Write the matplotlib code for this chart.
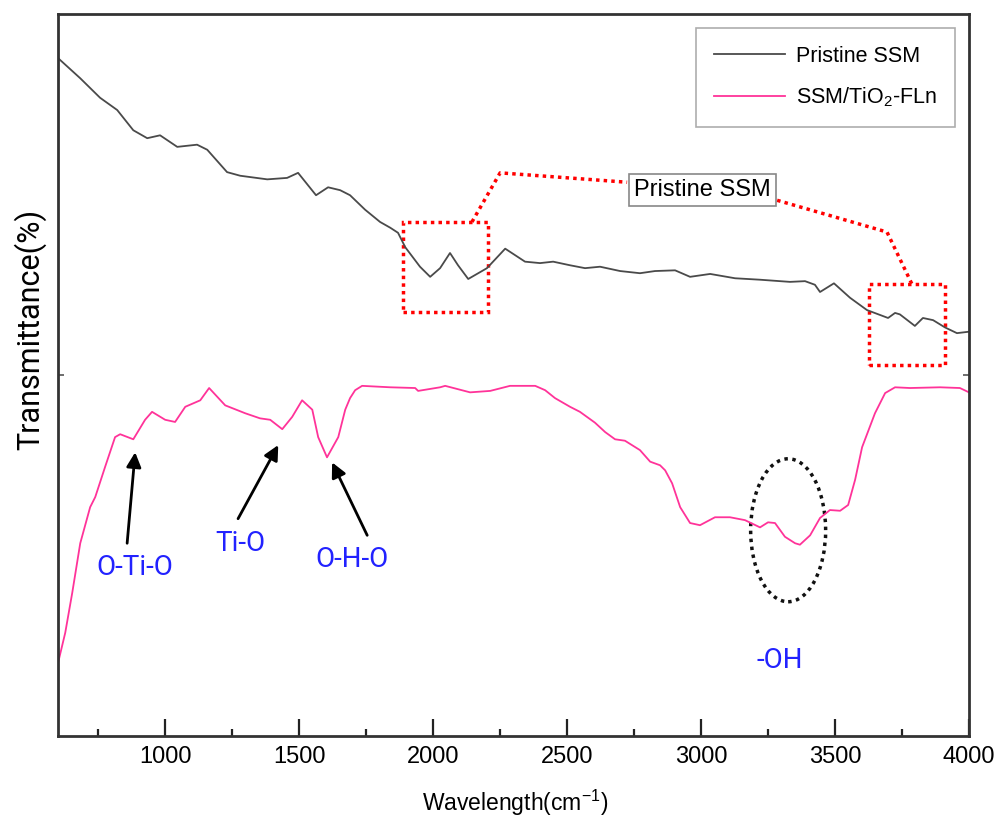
import matplotlib
matplotlib.use("Agg")
import matplotlib.pyplot as plt
from matplotlib import font_manager
from matplotlib.patches import Ellipse, Rectangle
from matplotlib.ticker import MultipleLocator, NullFormatter

# ---------------- data ----------------
pristine_wn = [600, 683, 757, 821, 881, 933, 981, 1045, 1119, 1157, 1231, 1280, 1381,
               1455, 1496, 1563, 1608, 1653, 1690, 1746, 1802, 1840, 1869, 1896, 1951,
               1989, 2026, 2063, 2093, 2131, 2201, 2269, 2343, 2399, 2448, 2511, 2567,
               2623, 2698, 2772, 2828, 2903, 2959, 3034, 3127, 3220, 3332, 3388, 3425,
               3444, 3496, 3556, 3619, 3698, 3724, 3742, 3798, 3828, 3866, 3910, 3955, 4000]
pristine_t = [93.9, 91.1, 88.4, 86.7, 83.9, 82.8, 83.2, 81.6, 81.9, 81.2, 78.1, 77.6, 77.1,
              77.3, 78.0, 74.9, 76.0, 75.6, 74.9, 72.9, 71.2, 70.4, 69.7, 67.7, 65.0,
              63.6, 64.8, 66.9, 65.2, 63.3, 64.8, 67.5, 65.7, 65.5, 65.7, 65.2, 64.8,
              65.0, 64.4, 64.1, 64.4, 64.5, 63.6, 64.0, 63.4, 63.2, 62.9, 63.0, 62.5,
              61.5, 62.7, 60.7, 59.0, 57.9, 58.6, 58.4, 56.8, 57.9, 57.6, 56.6, 55.8, 56.0]

tio2_wn = [600, 627, 653, 683, 720, 739, 776, 813, 832, 881, 925, 951, 1000, 1037, 1075,
           1131, 1164, 1224, 1299, 1354, 1392, 1437, 1474, 1511, 1549, 1571, 1604, 1646,
           1672, 1690, 1709, 1735, 1840, 1933, 1944, 2026, 2045, 2138, 2213, 2287, 2381,
           2418, 2455, 2511, 2548, 2604, 2642, 2679, 2716, 2772, 2810, 2847, 2866, 2892,
           2922, 2959, 2996, 3052, 3108, 3164, 3220, 3250, 3276, 3313, 3351, 3369, 3407,
           3444, 3481, 3519, 3549, 3575, 3601, 3649, 3687, 3724, 3780, 3892, 3966, 4000]
tio2_t = [10.1, 14.3, 19.8, 26.7, 31.7, 33.1, 37.3, 41.4, 41.8, 41.1, 43.8, 44.9, 43.8, 43.5, 45.6,
          46.5, 48.2, 45.8, 44.7, 44.0, 43.8, 42.5, 44.2, 46.5, 45.2, 41.4, 38.6, 41.4,
          45.2, 46.8, 47.9, 48.5, 48.3, 48.2, 47.8, 48.3, 48.5, 47.6, 47.8, 48.5, 48.5,
          47.9, 46.8, 45.6, 44.9, 43.4, 42.1, 41.1, 40.9, 39.6, 38.0, 37.5, 36.8, 35.0,
          31.7, 29.5, 29.2, 30.3, 30.3, 29.9, 28.9, 29.6, 29.5, 27.6, 26.7, 26.5, 27.8,
          30.2, 31.3, 31.2, 32.0, 35.5, 40.0, 44.7, 47.5, 48.3, 48.2, 48.3, 48.2, 47.6]

series_labels = ["Pristine SSM", "SSM/TiO$_2$-FLn"]
x_ticks = [1000, 1500, 2000, 2500, 3000, 3500, 4000]
peak_labels = ["O-Ti-O", "Ti-O", "O-H-O", "-OH"]

# ---------------- fonts ----------------
names = {f.name for f in font_manager.fontManager.ttflist}
if "Liberation Sans Narrow" in names:
    narrow = "Liberation Sans Narrow"
    tick_fs, leg_fs, box_fs, xl_fs = 20, 19, 20, 19
else:
    narrow = "Liberation Sans"
    tick_fs, leg_fs, box_fs, xl_fs = 17, 15.5, 17, 16.5
plt.rcParams["font.family"] = [narrow, "DejaVu Sans"]
plt.rcParams["mathtext.fontset"] = "custom"
plt.rcParams["mathtext.rm"] = narrow
plt.rcParams["mathtext.it"] = narrow
plt.rcParams["mathtext.default"] = "regular"

fig = plt.figure(figsize=(10, 8.19), dpi=100)
ax = fig.add_axes([0.058, 0.1013, 0.911, 0.8816])

grey = "#4a4a4a"
pink = "#ff3399"
blue = "#2222ff"

ax.plot(pristine_wn, pristine_t, color=grey, lw=1.3, label=series_labels[0])
ax.plot(tio2_wn, tio2_t, color=pink, lw=1.3, label=series_labels[1])

ax.set_xlim(600, 4000)
ax.set_ylim(0, 100)
ax.set_xticks(x_ticks)
ax.xaxis.set_minor_locator(MultipleLocator(250))
ax.set_yticks([50])
ax.yaxis.set_major_formatter(NullFormatter())
ax.tick_params(axis="x", which="major", direction="in", length=12, width=1.6,
               labelsize=tick_fs, pad=7, color="#222")
ax.tick_params(axis="x", which="minor", direction="in", length=5, width=1.6, color="#222")
ax.tick_params(axis="y", which="major", direction="in", length=4, width=1.2,
               right=True, color="#555")
for s in ax.spines.values():
    s.set_linewidth(2)
    s.set_color("#333333")

leg = ax.legend(loc="upper right", bbox_to_anchor=(0.985, 0.981), fontsize=leg_fs,
                frameon=True, fancybox=False, edgecolor="#999999", handlelength=3.3,
                borderpad=0.85, labelspacing=0.85, handletextpad=0.5, borderaxespad=0)
leg.get_frame().set_linewidth(1.2)

# labels
fig.text(0.03, 0.598, "Transmittance(%)", rotation=90, ha="center", va="center",
         fontsize=22, family=["Roboto", "DejaVu Sans"])
fig.text(0.515, 0.0195, "Wavelength(cm$^{-1}$)", ha="center", va="center", fontsize=xl_fs)

# peak annotations
arrow_kw = dict(arrowstyle="-|>", color="black", lw=2, mutation_scale=22, shrinkA=0, shrinkB=0)
ax.annotate("", xy=(888, 39.3), xytext=(858, 26.7), arrowprops=arrow_kw)
ax.annotate("", xy=(1422, 40.3), xytext=(1272, 30.1), arrowprops=arrow_kw)
ax.annotate("", xy=(1623, 37.9), xytext=(1754, 27.8), arrowprops=arrow_kw)
tkw = dict(color=blue, fontsize=20, ha="center", va="center", family=["Roboto", "DejaVu Sans"])
ax.text(888, 23.4, peak_labels[0], **tkw)
ax.text(1280, 26.7, peak_labels[1], **tkw)
ax.text(1698, 24.4, peak_labels[2], **tkw)
ax.text(3295, 10.4, peak_labels[3], **tkw)

# dotted ellipse
ax.add_patch(Ellipse((3325, 28.5), 280, 19.8, fill=False, edgecolor="#111111",
                     lw=2.5, linestyle=(0, (1, 1.3))))

# red dotted zoom boxes and connectors
red_ls = (0, (1, 1.2))
ax.add_patch(Rectangle((1888, 58.7), 317, 12.5, fill=False, edgecolor="red", lw=2.5, linestyle=red_ls))
ax.add_patch(Rectangle((3627, 51.4), 283, 11.2, fill=False, edgecolor="red", lw=2.5, linestyle=red_ls))
ax.plot([2145, 2250, 2724], [71.2, 78.0, 76.7], color="red", lw=2.5, linestyle=red_ls)
ax.plot([3284, 3694, 3787], [74.2, 69.8, 62.6], color="red", lw=2.5, linestyle=red_ls)
ax.text(3004, 75.6, series_labels[0], ha="center", va="center", fontsize=box_fs,
        bbox=dict(boxstyle="square,pad=0.22", facecolor="white", edgecolor="#888888", lw=1.2))

fig.savefig("out.png", dpi=100)
